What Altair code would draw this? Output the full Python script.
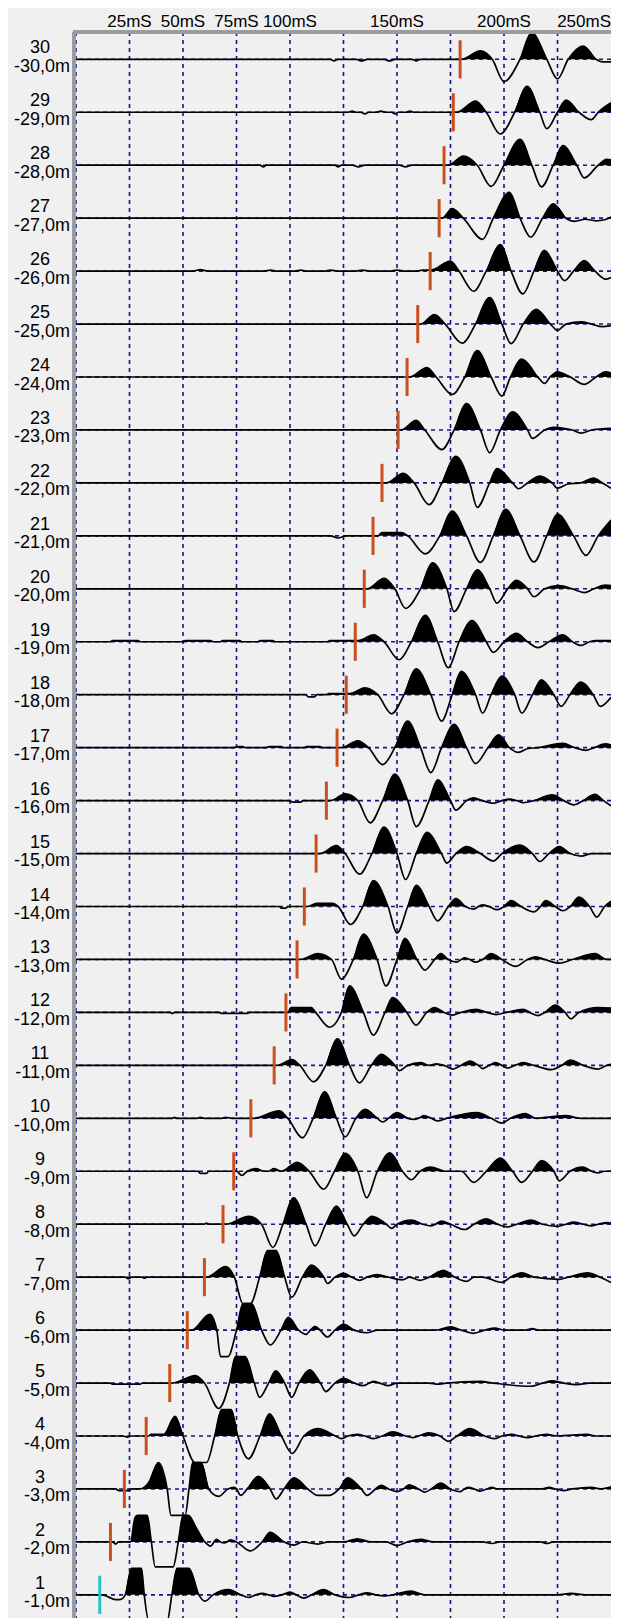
import altair as alt
import pandas as pd

# ---------------- data ----------------
TIME_GRID_MS = [0, 25, 50, 75, 100, 125, 150, 175, 200, 225]
TIME_LABELS_MS = [25, 50, 75, 100, 150, 200]
TIME_LABEL_END_MS = [250]
TRACE_IDS = list(range(30, 0, -1))
# first-break picks (ms), traces 30 .. 1
PICK_MS = [179.5, 176.3, 172.0, 169.7, 165.5, 159.7, 154.7, 150.5, 143.0, 138.8,
           134.7, 130.5, 126.3, 122.0, 117.0, 112.2, 106.7, 103.3, 98.1, 92.6,
           81.7, 73.7, 68.7, 60.0, 52.0, 43.8, 32.8, 22.6, 16.1, 11.1]
PICK_KIND = ["pick"] * 29 + ["ref"]

# waveform key points (time ms, amplitude in trace spacings)
W30 = [(0,0),(119,0),(120.5,-0.03),(122.5,0),(131,0),(133.5,-0.03),(136,0),(144,0),(146.5,-0.03),(149,0),
       (157,0),(159,-0.03),(161,0),(180,0),(189,0.16),(194.5,0),(200,-0.42),(207.5,0),(213,0.5),(220,0),
       (225,-0.37),(230,0),(237,0.25),(243,0),(246,-0.05),(250,-0.05)]
W29 = [(0,0),(127,0),(129,0.02),(131,0),(133,0),(135,-0.03),(137,0),(140,0),(142.5,0.02),(145,0),(147.5,0),
       (149,-0.03),(150.5,0),(154,0),(156,0.02),(158,0),(178,0),(186.7,0.21),(191.7,0),(198.3,-0.41),(205,0),
       (210.8,0.49),(216.7,0),(220,-0.31),(225,0),(229,0.23),(235,0),(240.8,-0.14),(244,0),(250,0.18)]
W28 = [(0,0),(86,0),(87.5,-0.03),(89,0),(121,0),(122.5,-0.03),(124,0),(129,0),(132,-0.03),(135,0),(151,0),
       (154,-0.03),(157,0),(174,0),(181,0.17),(187.5,0),(194,-0.40),(200,0),(207.5,0.49),(213,0),(217.5,-0.41),
       (223,0),(227.5,0.37),(234,0),(237.5,-0.24),(244,0),(248,0.11),(250,0.1)]
W27 = [(0,0),(171,0),(175.8,0.18),(181,0),(190,-0.40),(195,0),(202.5,0.49),(207.5,0),(212.5,-0.36),(218,0),
       (223,0.27),(229,0),(233,-0.06),(238,-0.02),(243,-0.05),(247,-0.03),(250,0.02)]
W26 = [(0,0),(55,0),(58,0.03),(61.7,0),(87.5,0),(91,0.02),(94,0),(102.5,0),(105,0.02),(107.5,0),(116,0),
       (119,0.02),(122.5,0),(130,0),(134,0.02),(137.5,0),(146.7,0),(150,0.02),(154,0),(159,0),(162,0.02),
       (166,0.02),(175,0.19),(179,0),(185.8,-0.38),(191.7,0),(198.3,0.5),(203.3,0),(208.8,-0.43),(214,0),
       (218.8,0.39),(225,0),(228.3,-0.18),(232.5,0),(237.5,0.2),(242.5,0),(247.5,-0.15),(250,-0.12)]
W25 = [(0,0),(161,0),(167.5,0.18),(172.5,0),(180.5,-0.36),(186.7,0),(193.3,0.5),(199,0),(203.3,-0.37),(209,0),
       (215,0.28),(221.7,0),(225,-0.12),(229,0),(236,0.04),(241,0),(245.8,-0.05),(250,-0.03)]
W24 = [(0,0),(156,0),(164,0.18),(168.3,0),(175.8,-0.33),(181.7,0),(187.5,0.5),(194,0),(199,-0.36),(203,0),
       (208.3,0.34),(215.8,0),(219,-0.12),(221.5,0),(225,0.1),(231,0),(237.5,-0.14),(243,0),(247.5,0.1),(250,0.08)]
W23 = [(0,0),(152,0),(159,0.18),(163,0),(171,-0.37),(176.7,0),(182.5,0.5),(189,0),(193.3,-0.43),(198.3,0),
       (204,0.34),(211,0),(213.3,-0.16),(219,0),(223,0.05),(228,0.03),(232,0),(236,-0.06),(241,0),(250,0.03)]
W22 = [(0,0),(145,0),(153,0.18),(158,0),(165,-0.41),(171,0),(177.5,0.5),(184,0),(187.5,-0.46),(193.3,0),
       (196.7,0.27),(204,0),(206.7,-0.11),(211,0),(216.7,0.13),(222.5,0),(225,-0.1),(230,-0.02),(236,0),
       (241.7,0.09),(246,0),(250,-0.1)]
W21 = [(0,0),(119,0),(122.5,-0.04),(126,0),(141,0),(143,0.06),(152,0.06),(155,0),(163.3,-0.34),(170,0),
       (175.8,0.47),(182.5,0),(189,-0.5),(195,0),(200.8,0.5),(207.5,0),(214,-0.49),(220,0),(225,0.41),(232.5,0),
       (238.3,-0.37),(244,0),(250,0.3)]
W20 = [(0,0),(136,0),(144,0.2),(149,0),(154,-0.37),(161,0),(166.7,0.49),(173.3,0),(176.7,-0.43),(182.5,0),
       (187.5,0.36),(193.3,0),(196.7,-0.27),(201.7,0),(205.8,0.16),(211,0),(214,-0.15),(219,0),(225.8,0.06),
       (232,0),(237.5,-0.07),(242,0),(247.5,0.07),(250,0.06)]
W19 = [(0,0),(16,0),(17,0.02),(29,0.02),(30,0),(50,0),(51,0.02),(63,0.02),(64,0),(67.5,0),(68.5,0.02),
       (76.5,0.02),(77.5,0),(85,0),(86,0.02),(92,0.02),(93,0),(117.5,0),(118.5,0.02),(125,0.02),(132,0.02),
       (139,0.13),(144,0),(151,-0.34),(156.7,0),(163.3,0.5),(169,0),(174,-0.49),(179,0),(185,0.4),(191.7,0),
       (195,-0.2),(200,0),(205.8,0.16),(211,0),(215.8,-0.11),(221,0),(227.5,0.13),(232,0),(236,-0.07),(240,0),
       (243,0.02),(250,0.02)]
W18 = [(0,0),(107.5,0),(108.5,-0.04),(111.5,-0.04),(112.5,0),(117,0),(118,0.02),(124,0.02),(128,0.02),
       (135,0.13),(141,0),(147.5,-0.36),(153.3,0),(159,0.49),(165.8,0),(170.8,-0.5),(175.8,0),(180,0.44),
       (186.7,0),(190,-0.35),(194,0),(199,0.35),(205,0),(208.3,-0.35),(213.3,0),(217.5,0.28),(223.3,0),
       (226.7,-0.22),(230.8,0),(235.8,0.24),(241.7,0),(245,-0.22),(250,-0.05)]
W17 = [(0,0),(74,0),(75,0.02),(78,0.02),(79,0),(89,0),(90,0.02),(96,0.02),(97,0),(106.7,0),(107.7,0.02),
       (114,0.02),(115,0),(124,0),(131.7,0.13),(136.7,0),(143.3,-0.32),(149,0),(155,0.5),(161,0),(165.8,-0.47),
       (170.8,0),(176.7,0.44),(182.5,0),(186.7,-0.3),(192.5,0),(197.5,0.24),(202.5,0),(206.7,-0.09),(211,-0.02),
       (216,0),(227.5,0.08),(233,0),(238.3,-0.05),(242,0),(247.5,0.07),(250,0.05)]
W16 = [(0,0),(100,0),(101,-0.03),(105,-0.03),(106,0),(119,0),(125.8,0.13),(131.7,0),(137.5,-0.42),(143.3,0),
       (149,0.5),(155,0),(159,-0.49),(165,0),(169,0.39),(175,0),(177.5,-0.18),(182.5,0),(185.8,0.05),(190,0),
       (195,-0.05),(199,0),(202.5,0.03),(206,0),(209,-0.04),(214,0),(222.5,0.11),(228,0),(232.5,-0.08),(237,0),
       (242.5,0.12),(246.5,0),(250,-0.1)]
W15 = [(0,0),(114,0),(121.7,0.15),(125.8,0),(132.5,-0.39),(138.3,0),(144,0.5),(150,0),(154,-0.49),(159,0),
       (164,0.4),(170.8,0),(173.3,-0.18),(177.5,0),(182.5,0.13),(189,0),(195,-0.14),(199,0),(207.5,0.16),
       (213.3,0),(216.7,-0.15),(221,0),(225.8,0.13),(231,0),(236,-0.05),(241,0),(250,0)]
W14 = [(0,0),(95,0),(96,-0.03),(98,-0.03),(99,0),(108,0),(112.5,0.06),(120,0.06),(122.5,0),(128.3,-0.34),
       (134,0),(139,0.49),(145.8,0),(150,-0.5),(155,0),(159,0.4),(165,0),(169,-0.27),(174,0),(177.5,0.15),
       (182,0),(185.8,-0.05),(188,0),(190,0.03),(193,0),(196.7,-0.06),(200,0),(203.3,0.11),(208,0),(214,-0.1),
       (217,0),(219.5,0.11),(224,0),(227.5,-0.08),(231,0),(235,0.18),(240,0),(243.3,-0.2),(247,0),(250,0.1)]
W13 = [(0,0),(105,0),(113,0.11),(119.4,0),(124,-0.37),(129.6,0),(134.3,0.48),(140.7,0),(144.8,-0.5),(150,0),
       (153.7,0.4),(159.3,0),(163,-0.2),(167.6,0),(170.4,0.11),(174,0),(177.8,-0.05),(180,0),(181.5,0.03),
       (184,0),(186.7,-0.05),(190,0),(194,0.11),(199,0),(205.4,-0.13),(211,0),(214.8,0.05),(219,0),(225.9,-0.07),
       (232,0),(242.6,0.11),(248,0),(250,0)]
W12 = [(0,0),(44,0),(45,-0.02),(46,0),(67,0),(68,-0.02),(80,-0.02),(81,0),(99,0),(100.5,0.09),(110,0.09),
       (112,0),(118.5,-0.28),(124,0),(127.8,0.5),(134.3,0),(138.9,-0.43),(144.4,0),(148,0.28),(154.6,0),
       (158.9,-0.24),(163.9,0),(167.6,0.09),(172,0),(175.9,-0.05),(180,0),(187,0.06),(192,0),(196.3,-0.04),
       (201,0),(209,0.06),(212,0),(215.7,-0.06),(219,0),(224,0.14),(228.5,0),(231.3,-0.12),(235,0),(244,0.09),
       (250,0.08)]
W11 = [(0,0),(94,0),(101,0.11),(104.6,0),(111,-0.31),(116.7,0),(122.2,0.5),(127.8,0),(132.4,-0.33),(138,0),
       (142.6,0.21),(149,0),(151,-0.1),(155,0),(161,0.05),(165,0),(168.5,0.03),(172,0),(176,-0.07),(180,0),
       (184,0.08),(188,0),(190,-0.06),(193,0),(196,0.05),(199,0),(201.8,-0.05),(205,0),(209,0.05),(214,0),
       (222,-0.08),(227,0),(231,0.1),(237,0),(244,-0.07),(248,0),(250,0.02)]
W10 = [(0,0),(45,0),(46,0.02),(47,0),(56.5,0),(58,0.02),(60,0),(68,0),(70,0.02),(73,0),(83,0),(95,0.14),
       (99,0),(105.8,-0.37),(110.8,0),(116.2,0.5),(121.7,0),(125.8,-0.35),(130.8,0),(135,0.17),(140.8,0),
       (143.3,-0.07),(146,0),(150,0.11),(155,0),(158,-0.02),(160,0),(162.5,0.05),(166,0),(169,-0.05),(173,0),
       (187.5,0.11),(194,0),(199,-0.09),(203,0),(210,0.09),(215,0),(222,0.03),(229,0.05),(236,0),(250,0)]
W9 = [(0,0),(57,0),(58,-0.04),(61,-0.04),(62,0),(75,0),(77.5,-0.08),(80,0),(84,0.05),(88,0),(90,0),
      (92.5,0.05),(96,0),(103.3,0.17),(109,0),(115.8,-0.34),(120.8,0),(125.8,0.34),(131.7,0),(135.8,-0.5),
      (140.8,0),(146.7,0.35),(152.5,0),(156.7,-0.16),(160.8,0),(165.8,0.08),(172.5,0),(180,0),(185.8,-0.21),
      (191.7,0),(198.3,0.25),(204,0),(208.3,-0.21),(213.3,0),(217.5,0.2),(223.3,0),(225.8,-0.18),(230.8,0),
      (236.7,0.08),(241,0),(244,-0.03),(247,0),(250,0)]
W8 = [(0,0),(60,0),(61,0.02),(62,0),(70,0),(80.8,0.15),(86.7,0),(92,-0.44),(96.7,0),(101.7,0.5),(107.5,0),
      (111.7,-0.41),(116.7,0),(121.7,0.34),(126.7,0),(130,-0.22),(134.2,0),(138.3,0.15),(145,0),(147.5,-0.08),
      (150,0),(156.7,0.08),(162,0),(165.8,-0.03),(168,0),(170.8,0.06),(175,0),(181.7,-0.1),(186,0),(191.7,0.1),
      (197,0),(201.7,-0.05),(206,0),(212.5,0.08),(218,0),(225,-0.04),(229,0),(232.5,0.04),(237,0),(240.8,-0.03),
      (244,0),(248,0.03),(250,0.02)]
W7 = [(0,0),(23,0),(24.5,-0.03),(26,0),(31,0),(32,-0.02),(33,0),(61,0),(70,0.2),(74,0),(78,-0.5),(81.5,-0.5),
      (85.8,0),(89.5,0.5),(93.5,0.5),(97.5,0),(100.8,-0.38),(105.8,0),(110,0.23),(115.8,0),(117.5,-0.12),
      (121,0),(125,0.07),(129,0),(132.5,-0.06),(136,0),(140.8,0.05),(146,0),(152.5,-0.05),(156,0),
      (160.8,-0.06),(165,0),(171.7,0.13),(177,0),(182.5,-0.08),(186,0),(190,0),(199,-0.1),(203,0),(208.3,0.08),
      (214,0),(225.8,-0.04),(230,0),(239,0.08),(245,0),(250,-0.1)]
W6 = [(0,0),(54,0),(62.5,0.3),(65.8,0),(67.5,-0.5),(71,-0.5),(75,0),(78,0.5),(82,0.5),(86.7,0),(90.8,-0.28),
      (95.8,0),(99.2,0.24),(104,0),(107.5,-0.08),(109.5,0),(111.7,0.07),(114,0),(117.5,-0.13),(121,0),(125,0.11),
      (130,0),(135.8,-0.05),(141,0),(168,0),(175,0.06),(180,0),(185.8,-0.06),(191,0),(195.8,0.04),(200,0),
      (210,0),(213.3,0.03),(216,0),(250,0)]
W5 = [(0,0),(16,0),(17,-0.02),(30,-0.02),(31,0),(45,0),(55.8,0.14),(60,0),(66.7,-0.48),(71.7,0),(74.5,0.5),
      (79,0.5),(83.3,0),(85.8,-0.27),(90,0),(93.3,0.23),(97.5,0),(100.8,-0.27),(104.2,0),(109.2,0.25),(114.2,0),
      (116.7,-0.16),(121,0),(125,0.09),(130,0),(134.2,-0.05),(137,0),(139,0.03),(142,0),(145.8,-0.05),(150,0),
      (165,0),(169,-0.02),(173,0),(189,0.03),(195,0),(212.5,-0.06),(218,0),(222.5,0.04),(228,0),(234,-0.03),
      (240,0),(250,0)]
W4 = [(0,0),(22,0),(24,-0.02),(26,0),(34,0),(35,0.03),(41,0.03),(46.3,0.37),(50,0),(55.6,-0.5),(61,-0.5),
      (64.8,0),(68,0.5),(72.5,0.5),(75.6,0),(80.6,-0.43),(86,0),(90.4,0.42),(96,0),(101,-0.33),(106.5,0),
      (113,0.14),(121.3,0),(124,-0.05),(127,0),(131.5,0.03),(135,0),(139,-0.05),(143,0),(148,0.08),(154,0),
      (157.4,-0.03),(160,0),(164.8,0.06),(170,0),(174,-0.1),(178,0),(184,0.14),(191,0),(195.4,-0.05),(199,0),
      (203.7,0.03),(207,0),(211,-0.03),(215,0),(220,0.03),(225,0),(238.9,0.03),(243,0),(250,0)]
W3 = [(0,0),(18.5,0),(20,-0.03),(25,-0.03),(26,0),(30,0),(34,0.12),(38.5,0.5),(42.6,0),(44.4,-0.5),(51,-0.5),
      (52.8,0),(54.5,0.5),(58.5,0.5),(62,0),(66.7,-0.14),(71,0),(74,0.03),(75,0),(76.9,-0.12),(80,0),(85.2,0.24),
      (90.7,0),(93.5,-0.19),(97.2,0),(101.9,0.21),(108.3,0),(113,-0.12),(118.5,-0.12),(123,0),(126.9,0.21),
      (133.3,0),(136,-0.12),(140,0),(142.6,0.07),(146,0),(150,-0.05),(153,0),(155.6,0.08),(160,0),(163,-0.06),
      (166,0),(170.4,0.11),(175,0),(179.6,-0.05),(181.5,0),(183.3,0.03),(186,0),(188.9,-0.04),(192,0),
      (194.4,0.03),(197,0),(218,0),(221,0.03),(224,0),(227.8,-0.03),(232,0),(240.7,0.03),(245,0),(250,0.04)]
W2 = [(0,0),(17,0),(18.5,-0.04),(20,0),(25.5,0),(27.5,0.45),(28.7,0.5),(33.3,0.5),(35.2,0),(37,-0.47),
      (45.4,-0.47),(47.8,0),(50,0.5),(52.5,0.5),(56,0.28),(60.2,0),(63,-0.08),(64.5,0),(65.7,0.05),(67.5,0),
      (69.4,-0.02),(70.5,0),(72.2,0.04),(75,0),(81.5,-0.17),(87,0),(90.7,0.18),(97.2,0),(101.9,-0.06),(106,0),
      (113,-0.04),(118,0),(125,0),(131.5,0.06),(138,0),(145,0),(150,-0.07),(155,0),(161,0.05),(167,0),(190,0),
      (194.4,-0.03),(198,0),(217,0),(220,-0.03),(223,0),(250,0)]
W1 = [(0,0),(12,0),(14,-0.02),(18.5,-0.09),(20.5,-0.09),(23,0),(25.9,0.5),(30.6,0.5),(31.9,0),(34,-0.5),
      (42.6,-0.5),(44.8,0),(47.2,0.5),(52.8,0.5),(57.4,0),(60.2,-0.12),(64,0),(71.3,0.1),(77,0),(80.6,-0.05),
      (84,0),(87,0.03),(90,0),(92.6,-0.03),(96,0),(100,0.05),(103,0),(106.5,-0.06),(110,0),(115.7,0.1),(121,0),
      (127.8,-0.05),(132,0),(136,0.04),(140,0),(144.4,-0.02),(148,0),(156.5,0.07),(163,0),(225,0),(231.5,0.03),
      (238,0),(250,0)]
WAVES = [W30, W29, W28, W27, W26, W25, W24, W23, W22, W21, W20, W19, W18, W17, W16,
         W15, W14, W13, W12, W11, W10, W9, W8, W7, W6, W5, W4, W3, W2, W1]

# ---------------- style / layout ----------------
W, H = 535, 1586
Y_LO, Y_HI = 0.563, 30.516
NAVY = "#14148a"
ORANGE = "#c9501c"
CYAN = "#20c4c8"
FONT = "Liberation Sans"
FSIZE = 18
AXIS_FSIZE = 17

rows = []
for k, pts in zip(TRACE_IDS, WAVES):
    for t, a in pts:
        rows.append({"trace": k, "t": t, "y": k + a,
                     "ypos": (k + a) if a >= 0 else None, "base": k})
wave = pd.DataFrame(rows)

picks = pd.DataFrame({"trace": TRACE_IDS, "pick": PICK_MS, "kind": PICK_KIND})
picks["lo"] = picks["trace"] - 0.36
picks["hi"] = picks["trace"] + 0.36

labels = pd.DataFrame({"trace": TRACE_IDS,
                       "num": [str(k) for k in TRACE_IDS],
                       "depth": ["-%d,0m" % k for k in TRACE_IDS]})
grid = pd.DataFrame({"time": TIME_GRID_MS})
tlab = pd.DataFrame({"time": TIME_LABELS_MS, "txt": ["%dmS" % v for v in TIME_LABELS_MS]})
tlab_end = pd.DataFrame({"time": TIME_LABEL_END_MS, "txt": ["%dmS" % v for v in TIME_LABEL_END_MS]})

xs = alt.Scale(domain=[0, 250], nice=False, zero=False)
ys = alt.Scale(domain=[Y_LO, Y_HI], nice=False, zero=False)

vgrid = alt.Chart(grid).mark_rule(color=NAVY, strokeDash=[4, 4], strokeWidth=1.6).encode(
    x=alt.X("time:Q", scale=xs, axis=None))

hgrid = alt.Chart(labels).mark_rule(color=NAVY, strokeDash=[4, 4], strokeWidth=1.6).encode(
    y=alt.Y("trace:Q", scale=ys, axis=None))

area = alt.Chart(wave).mark_area(color="#000000", interpolate="monotone", orient="vertical",
                                 clip=True, invalid="break-paths-show-domains").encode(
    x=alt.X("t:Q", scale=xs, axis=None),
    y=alt.Y("ypos:Q", scale=ys, axis=None),
    y2="base:Q",
    detail="trace:N")

line = alt.Chart(wave).mark_line(color="#000000", strokeWidth=1.7, interpolate="monotone",
                                 clip=True).encode(
    x=alt.X("t:Q", scale=xs, axis=None),
    y=alt.Y("y:Q", scale=ys, axis=None),
    detail="trace:N")

pick_rules = alt.Chart(picks).mark_rule(strokeWidth=3).encode(
    x=alt.X("pick:Q", scale=xs, axis=None),
    y=alt.Y("lo:Q", scale=ys, axis=None),
    y2="hi:Q",
    color=alt.Color("kind:N", scale=alt.Scale(domain=["pick", "ref"], range=[ORANGE, CYAN]),
                    legend=None))

num_text = alt.Chart(labels).mark_text(align="center", baseline="alphabetic", dy=-6,
                                        font=FONT, fontSize=FSIZE, color="#000000").encode(
    x=alt.value(-36), y=alt.Y("trace:Q", scale=ys, axis=None), text="num:N")

depth_text = alt.Chart(labels).mark_text(align="right", baseline="alphabetic", dy=12.5,
                                          font=FONT, fontSize=FSIZE, color="#000000").encode(
    x=alt.value(-6), y=alt.Y("trace:Q", scale=ys, axis=None), text="depth:N")

time_text = alt.Chart(tlab).mark_text(align="center", baseline="alphabetic",
                                      font=FONT, fontSize=AXIS_FSIZE, color="#000000").encode(
    x=alt.X("time:Q", scale=xs, axis=None), y=alt.value(-5), text="txt:N")
time_text_end = alt.Chart(tlab_end).mark_text(align="right", baseline="alphabetic",
                                              font=FONT, fontSize=AXIS_FSIZE, color="#000000").encode(
    x=alt.X("time:Q", scale=xs, axis=None), y=alt.value(-5), text="txt:N")

frame_top = alt.Chart(grid).mark_rule(color="#9a9a9a", strokeWidth=2.5).encode(
    x=alt.value(-3), x2=alt.value(W), y=alt.value(0))
frame_left = alt.Chart(grid).mark_rule(color="#9a9a9a", strokeWidth=2.5).encode(
    x=alt.value(-2), y=alt.value(0), y2=alt.value(H))

chart = alt.layer(vgrid, hgrid, area, line, pick_rules, num_text, depth_text,
                  time_text, time_text_end, frame_top, frame_left).properties(
    width=W, height=H,
    padding={"left": 68, "top": 24, "right": 0, "bottom": 0},
    autosize=alt.AutoSizeParams(type="none"),
    background="#f0f0f0",
).configure_view(strokeWidth=0)

chart.save("out.html", embed_options={"renderer": "svg", "actions": False})
